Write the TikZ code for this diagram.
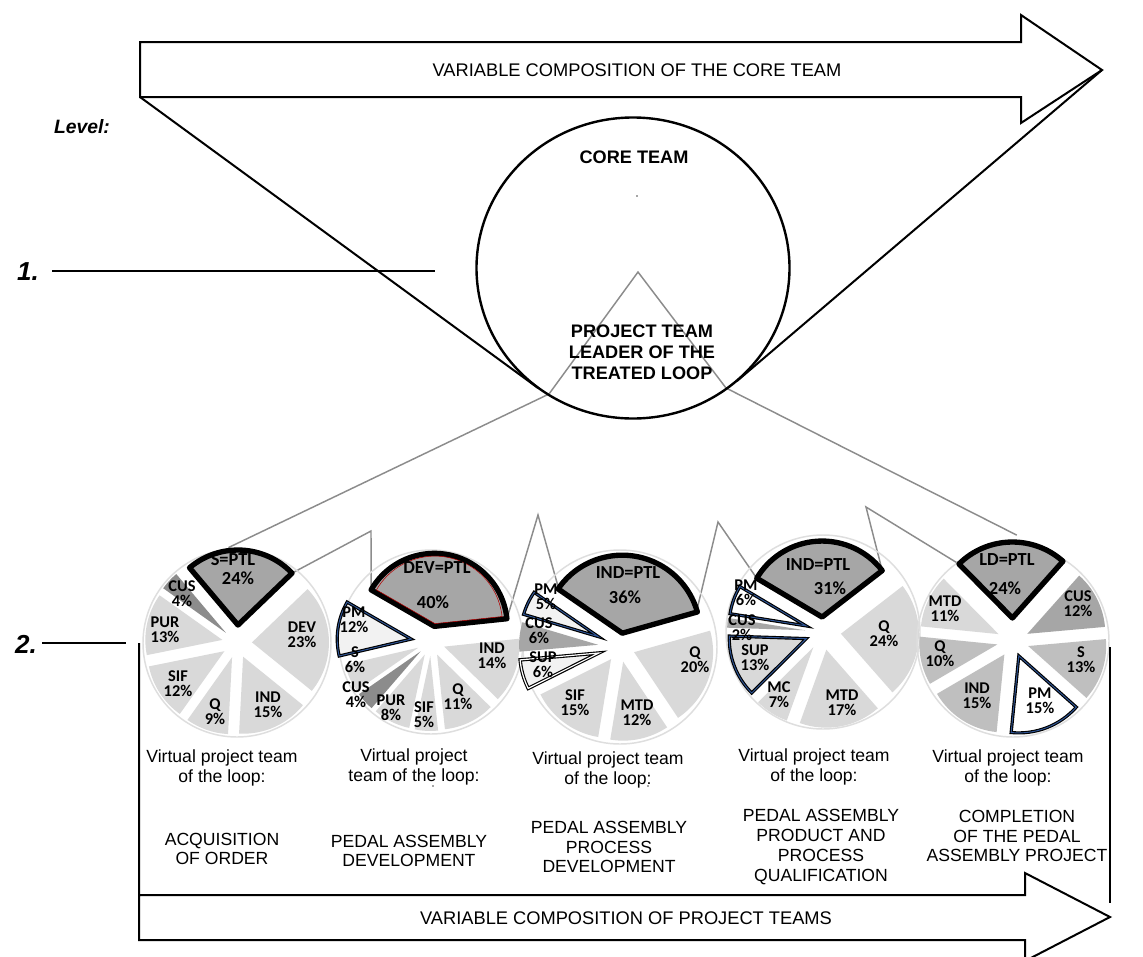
\documentclass[tikz,border=0pt]{standalone}
\usepackage{fontspec}
\usepackage{graphicx}
\setmainfont{Liberation Sans}
\newfontfamily\lblfont{Carlito}
\usetikzlibrary{calc}

\definecolor{lightsl}{HTML}{D9D9D9}
\definecolor{midsl}{HTML}{BFBFBF}
\definecolor{darksl}{HTML}{A6A6A6}
\definecolor{deepsl}{HTML}{8C8C8C}
\definecolor{palesl}{HTML}{F2F2F2}
\definecolor{ringgray}{HTML}{DEDEDE}
\definecolor{guidegray}{HTML}{8C8C8C}
\definecolor{navyline}{HTML}{2F5597}

\tikzset{
  outline/.style={draw=black, line width=1.5pt, line join=miter},
  guide/.style={draw=guidegray, line width=1.1pt},
  thinrule/.style={draw=black, line width=0.8pt},
  pring/.style={draw=ringgray, line width=1.1pt},
  sl/.style={fill=#1, draw=none},
  slptl/.style={fill=darksl, draw=black, line width=4pt, line join=round},
  slhl/.style={fill=#1, draw=black, double=navyline, double distance=0.7pt, line width=0.85pt},
  slhlw/.style={fill=#1, draw=black, double=white, double distance=0.9pt, line width=0.85pt},
  arrowtxt/.style={font=\fontsize{13.7}{16}\selectfont, inner sep=0pt},
  capt/.style={font=\fontsize{13.2}{14.8}\selectfont, align=center, inner sep=0pt},
  coretxt/.style={font=\bfseries\fontsize{13.6}{15.75}\selectfont, align=center, inner sep=0pt},
  lvltxt/.style={font=\bfseries\itshape\fontsize{14.5}{17}\selectfont, inner sep=0pt},
  numtxt/.style={font=\bfseries\itshape\fontsize{19.5}{22}\selectfont, inner sep=0pt},
  lab/.style={font=\lblfont\bfseries\fontsize{12.3}{11.3}\selectfont, align=center, inner sep=0pt},
  labptl/.style={font=\lblfont\bfseries\fontsize{13.8}{14}\selectfont, inner sep=0pt},
  speck/.style={fill=black!70, draw=none},
}

% exploded pie slice: centre, start angle, end angle, explosion, radius, style
\newcommand{\pieslice}[6]{%
  \pgfmathsetmacro{\slmid}{(#2+#3)/2}%
  \path[#6] ($(#1)+(\slmid:#4)$) -- ++(#2:#5) arc[start angle=#2, end angle=#3, radius=#5] -- cycle;%
}

\begin{document}
\begin{tikzpicture}[x=0.75pt, y=0.75pt]
\useasboundingbox (0,0) rectangle (1143,-957);
\fill[white] (0,0) rectangle (1143,-957);

% ---------- key points ----------
\coordinate (ctr) at (633,-268);
\coordinate (C1) at (237,-643);
\coordinate (C2) at (431,-642);
\coordinate (C3) at (620,-647);
\coordinate (C4) at (823,-632);
\coordinate (C5) at (1013,-641);

% corners of the leader slices
\coordinate (p1R) at ($(C1)+(87:18)+(43.8:75)$);
\coordinate (p2L) at ($(C2)+(78:16)+(150:73)$);
\coordinate (p2R) at ($(C2)+(78:16)+(6:73)$);
\coordinate (p3L) at ($(C3)+(80.6:14)+(145.4:77)$);
\coordinate (p3R) at ($(C3)+(80.6:14)+(15.8:77)$);
\coordinate (p4L) at ($(C4)+(93.5:15)+(149.3:76)$);
\coordinate (p4R) at ($(C4)+(93.5:15)+(37.7:76)$);
\coordinate (p5L) at ($(C5)+(91.5:23)+(134.7:76)$);
\coordinate (g1) at ($(C1)+(87:18)+(97:78)$);
\coordinate (g5) at ($(C5)+(91.5:23)+(87:83)$);

% zigzag peaks
\coordinate (k1) at (371,-531);
\coordinate (k2) at (538,-515);
\coordinate (k3) at (718,-522);
\coordinate (k4) at (866,-507);

% leader triangle inside the core circle
\coordinate (gA) at (638,-272);
\coordinate (gL) at (549,-394);
\coordinate (gR) at (726,-388);

% ---------- top arrow ----------
\coordinate (ta1) at (140,-42);
\coordinate (ta2) at (1021,-42);
\coordinate (ta3) at (1021,-15);
\coordinate (tip) at (1102,-70);
\coordinate (ta5) at (1021,-123);
\coordinate (ta6) at (1021,-97);
\coordinate (ta7) at (140,-97);
\draw[outline] (ta1) -- (ta2) -- (ta3) -- (tip) -- (ta5) -- (ta6) -- (ta7) -- cycle;
\node[arrowtxt] (toptxt) at (637,-70) {VARIABLE COMPOSITION OF THE CORE TEAM};

% ---------- grey guide lines ----------
\draw[guide] (g1) -- (gL) -- (gA) -- (gR) -- (g5);
\draw[guide] (p1R) -- (k1) -- (p2L);
\draw[guide] (p2R) -- (k2) -- (p3L);
\draw[guide] (p3R) -- (k3) -- (p4L);
\draw[guide] (p4R) -- (k4) -- (p5L);

% ---------- core circle and tangents ----------
\coordinate (tanL) at (538,-388);
\coordinate (tanR) at (737,-381);
\draw[outline] (ta7) -- (tanL);
\draw[outline] (tip) -- (tanR);
\draw[black, line width=1.8pt] (ctr) ellipse [x radius=156.5, y radius=150.5];
\node[coretxt] (core) at (634,-157) {CORE TEAM};
\node[coretxt] (leader) at (642,-352) {PROJECT TEAM\\LEADER OF THE\\TREATED LOOP};
\fill[speck] (637,-196) circle[radius=0.9];

% ---------- level marks ----------
\node[lvltxt] (lvl) at (82,-127) {Level:};
\node[numtxt] (n1) at (28,-272) {1.};
\node[numtxt] (n2) at (26,-644) {2.};
\coordinate (r1a) at (52,-271);
\coordinate (r1b) at (435,-271);
\coordinate (r2a) at (42,-643);
\coordinate (r2b) at (126,-643);
\draw[thinrule] (r1a) -- (r1b);
\draw[thinrule] (r2a) -- (r2b);

% ---------- pie 1 ----------
\draw[pring] (C1) circle[radius=94];
\pieslice{C1}{-39}{43.8}{15}{77}{sl=lightsl}
\pieslice{C1}{-93}{-39}{15}{77}{sl=lightsl}
\pieslice{C1}{-125.4}{-93}{15}{77}{sl=lightsl}
\pieslice{C1}{-168.6}{-125.4}{15}{77}{sl=lightsl}
\pieslice{C1}{144.6}{191.4}{15}{77}{sl=lightsl}
\pieslice{C1}{130.2}{144.6}{15}{77}{sl=deepsl}
\pieslice{C1}{43.8}{130.2}{18}{75}{slptl}
\node[labptl] at (233,-560) {S=PTL};
\node[labptl] at (238,-578) {24\%};
\node[lab] at (182,-594) {CUS\\4\%};
\node[lab] at (165,-630) {PUR\\13\%};
\node[lab] at (178,-684) {SIF\\12\%};
\node[lab] at (215,-712) {Q\\9\%};
\node[lab] at (268,-705) {IND\\15\%};
\node[lab] at (302,-635) {DEV\\23\%};

% ---------- pie 2 ----------
\draw[pring] (C2) circle[radius=92];
\pieslice{C2}{-44.4}{6}{14}{75}{sl=lightsl}
\pieslice{C2}{-84}{-44.4}{14}{75}{sl=lightsl}
\pieslice{C2}{-102}{-84}{14}{75}{sl=lightsl}
\pieslice{C2}{-130.8}{-102}{14}{75}{sl=lightsl}
\pieslice{C2}{-145.2}{-130.8}{14}{75}{sl=deepsl}
\pieslice{C2}{-166.8}{-145.2}{14}{75}{sl=lightsl}
\pieslice{C2}{150}{193.2}{20}{74}{slhl=palesl}
\pieslice{C2}{6}{150}{16}{73}{slptl}
\pieslice{C2}{6}{150}{18.8}{67.5}{draw=red!70!black, line width=0.4pt}
\node[labptl] at (437,-568) {DEV=PTL};
\node[labptl] at (433,-602) {40\%};
\node[lab] at (354,-620) {PM\\12\%};
\node[lab] at (355,-660) {S\\6\%};
\node[lab] at (356,-695) {CUS\\4\%};
\node[lab] at (391,-708) {PUR\\8\%};
\node[lab] at (424,-715) {SIF\\5\%};
\node[lab] at (458,-697) {Q\\11\%};
\node[lab] at (492,-656) {IND\\14\%};

% ---------- pie 3 ----------
\draw[pring] (C3) circle[radius=97];
\pieslice{C3}{-56.2}{15.8}{15}{79}{sl=lightsl}
\pieslice{C3}{-99.4}{-56.2}{15}{79}{sl=lightsl}
\pieslice{C3}{-153.4}{-99.4}{15}{79}{sl=lightsl}
\pieslice{C3}{185}{206.6}{22}{79}{slhlw=palesl}
\pieslice{C3}{163.4}{185}{22}{79}{sl=darksl}
\pieslice{C3}{145.4}{163.4}{24}{78}{slhl=palesl}
\pieslice{C3}{15.8}{145.4}{14}{78}{slptl}
\node[labptl] at (628,-573) {IND=PTL};
\node[labptl] at (625,-597) {36\%};
\node[lab] at (546,-597) {PM\\5\%};
\node[lab] at (539,-631) {CUS\\6\%};
\node[lab] at (543,-665) {SUP\\6\%};
\node[lab] at (575,-703) {SIF\\15\%};
\node[lab] at (637,-713) {MTD\\12\%};
\node[lab] at (695,-660) {Q\\20\%};

% ---------- pie 4 ----------
\draw[pring] (C4) circle[radius=97];
\pieslice{C4}{-48.7}{37.7}{18}{78}{sl=lightsl}
\pieslice{C4}{-109.9}{-48.7}{18}{78}{sl=lightsl}
\pieslice{C4}{-135.1}{-109.9}{18}{78}{sl=lightsl}
\pieslice{C4}{170.9}{178.1}{18}{78}{sl=darksl}
\pieslice{C4}{178.1}{224.9}{18}{77}{slhl=lightsl}
\pieslice{C4}{149.3}{170.9}{18}{77}{slhl=white}
\pieslice{C4}{37.7}{149.3}{15}{76}{slptl}
\node[labptl] at (818,-565) {IND=PTL};
\node[labptl] at (830,-588) {31\%};
\node[lab] at (746,-593) {PM\\6\%};
\node[lab] at (742,-628) {CUS\\2\%};
\node[lab] at (755,-658) {SUP\\13\%};
\node[lab] at (779,-695) {MC\\7\%};
\node[lab] at (842,-703) {MTD\\17\%};
\node[lab] at (884,-634) {Q\\24\%};

% ---------- pie 5 ----------
\draw[pring] (C5) circle[radius=96];
\pieslice{C5}{5.1}{48.3}{16}{78}{sl=darksl}
\pieslice{C5}{-41.7}{5.1}{16}{78}{sl=midsl}
\pieslice{C5}{-149.7}{-95.7}{16}{78}{sl=midsl}
\pieslice{C5}{174.3}{210.3}{16}{78}{sl=midsl}
\pieslice{C5}{134.7}{174.3}{16}{78}{sl=lightsl}
\pieslice{C5}{-95.7}{-41.7}{16}{77}{slhl=white}
\pieslice{C5}{48.3}{134.7}{23}{76}{slptl}
\node[labptl] at (1007,-560) {LD=PTL};
\node[labptl] at (1005,-588) {24\%};
\node[lab] at (1078,-604) {CUS\\12\%};
\node[lab] at (1081,-660) {S\\13\%};
\node[lab] at (1040,-701) {PM\\15\%};
\node[lab] at (977,-696) {IND\\15\%};
\node[lab] at (940,-654) {Q\\10\%};
\node[lab] at (945,-609) {MTD\\11\%};

% ---------- captions ----------
\node[capt] (cap1a) at (222,-768) {Virtual project team\\of the loop:};
\node[capt] (cap1b) at (222,-849) {ACQUISITION\\OF ORDER};
\node[capt] (cap2a) at (414,-767) {Virtual project\\team of the loop:};
\node[capt] (cap2b) at (409,-851) {PEDAL ASSEMBLY\\DEVELOPMENT};
\node[capt] (cap3a) at (608,-770) {Virtual project team\\of the loop:};
\node[capt] (cap3b) at (609,-847) {PEDAL ASSEMBLY\\PROCESS\\DEVELOPMENT};
\node[capt] (cap4a) at (814,-767) {Virtual project team\\of the loop:};
\node[capt] (cap4b) at (821,-847) {PEDAL ASSEMBLY\\PRODUCT AND\\PROCESS\\QUALIFICATION};
\node[capt] (cap5a) at (1008,-768) {Virtual project team\\of the loop:};
\node[capt] (cap5b) at (1017,-836) {COMPLETION\\OF THE PEDAL\\ASSEMBLY PROJECT};
\fill[speck] (433,-786) circle[radius=0.9];
\fill[speck] (648,-786) circle[radius=0.9];

% ---------- bottom arrow and bracket ----------
\coordinate (ba0) at (139,-643);
\coordinate (ba1) at (139,-895);
\coordinate (ba2) at (1025,-895);
\coordinate (ba3) at (1025,-873);
\coordinate (btip) at (1110,-917);
\coordinate (ba5) at (1025,-961);
\coordinate (ba6) at (1025,-940);
\coordinate (ba7) at (139,-940);
\draw[outline] (ba0) -- (ba7) -- (ba6) -- (ba5) -- (btip) -- (ba3) -- (ba2) -- (ba1);
\coordinate (rb0) at (1110,-647);
\coordinate (rb1) at (1110,-903);
\draw[outline] (rb0) -- (rb1);
\node[arrowtxt] (bottxt) at (626,-918) {VARIABLE COMPOSITION OF PROJECT TEAMS};

\end{tikzpicture}
\end{document}
